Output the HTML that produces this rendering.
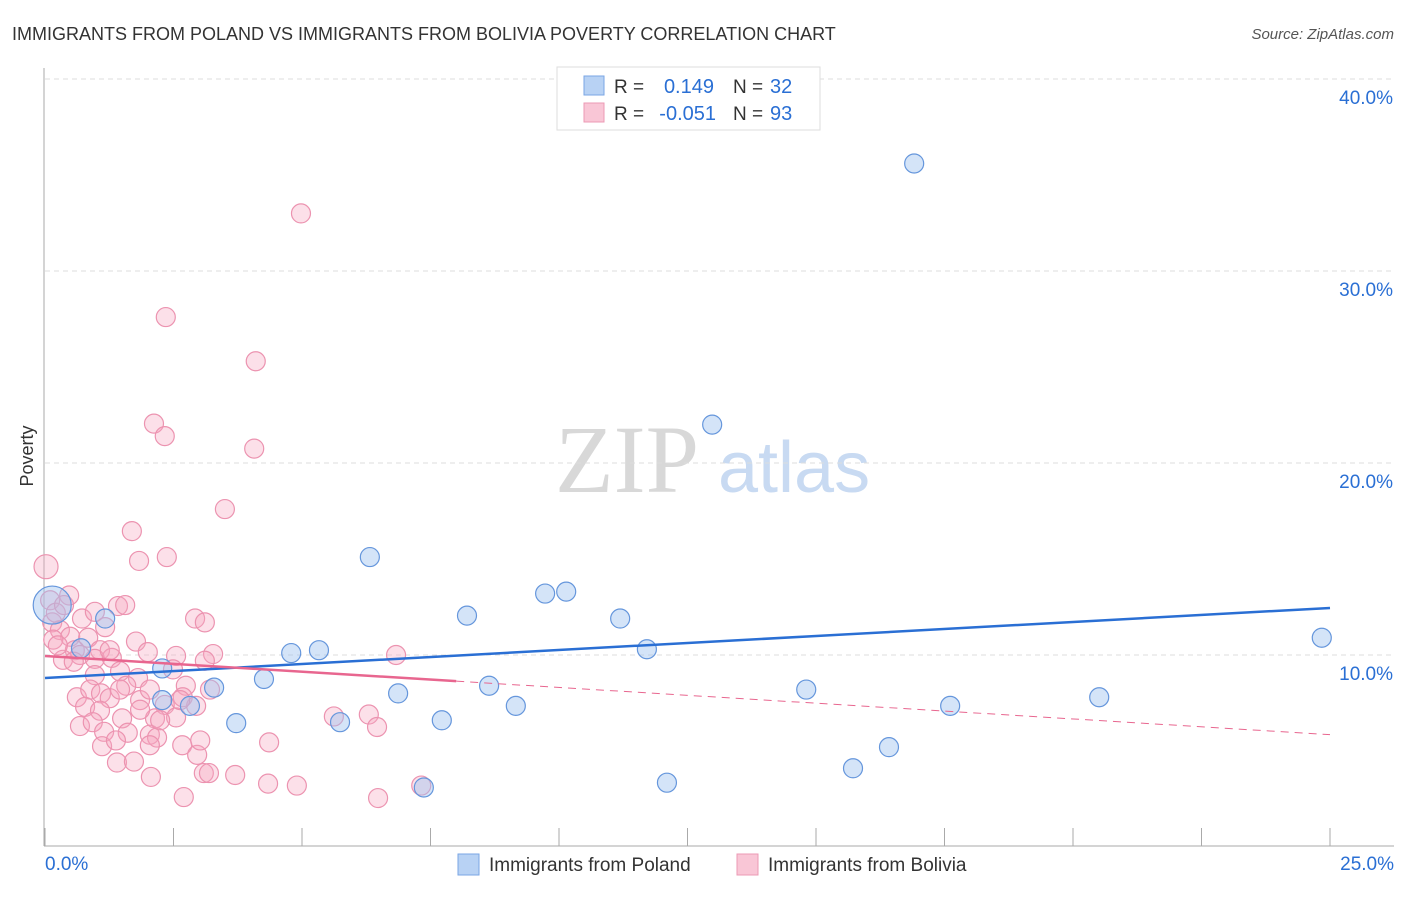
<!DOCTYPE html>
<html><head><meta charset="utf-8"><style>
body{margin:0;background:#fff;font-family:"Liberation Sans",sans-serif;}
</style></head><body>
<svg width="1406" height="892" xmlns="http://www.w3.org/2000/svg" style="font-family:'Liberation Sans',sans-serif">
<text x="12" y="40" font-size="18" fill="#333">IMMIGRANTS FROM POLAND VS IMMIGRANTS FROM BOLIVIA POVERTY CORRELATION CHART</text>
<text x="1394" y="39" font-size="15" fill="#555" font-style="italic" text-anchor="end">Source: ZipAtlas.com</text>
<text x="555" y="492" font-size="96" fill="#d8d8d8" font-family="Liberation Serif">ZIP</text>
<text x="718" y="492" font-size="72" fill="#c8daf2">atlas</text>
<g id="grid"></g>
<g id="axes"></g>
<g id="marks"></g>
<text transform="translate(33,456) rotate(-90)" font-size="18" fill="#333" text-anchor="middle">Poverty</text>
<g>
<rect x="557" y="67" width="263" height="63" fill="#fff" stroke="#ddd"/>
<rect x="584" y="76" width="20" height="19" fill="#b8d2f4" stroke="#7aa6e4"/>
<rect x="584" y="103" width="20" height="19" fill="#f9c6d6" stroke="#ec9ab4"/>
<text x="614" y="93" font-size="19" fill="#333">R =</text><text x="714" y="93" font-size="20" fill="#2a6fd4" text-anchor="end">0.149</text>
<text x="733" y="93" font-size="19" fill="#333">N =</text><text x="770" y="93" font-size="20" fill="#2a6fd4">32</text>
<text x="614" y="120" font-size="19" fill="#333">R =</text><text x="716" y="120" font-size="20" fill="#2a6fd4" text-anchor="end">-0.051</text>
<text x="733" y="120" font-size="19" fill="#333">N =</text><text x="770" y="120" font-size="20" fill="#2a6fd4">93</text>
</g>
<g>
<rect x="458" y="854" width="21" height="21" fill="#b8d2f4" stroke="#7aa6e4"/>
<text x="489" y="871" font-size="19" fill="#333">Immigrants from Poland</text>
<rect x="737" y="854" width="21" height="21" fill="#f9c6d6" stroke="#ec9ab4"/>
<text x="768" y="871" font-size="19" fill="#333">Immigrants from Bolivia</text>
</g>
</svg>
<script>
const xTicks=[0,2.5,5,7.5,10,12.5,15,17.5,20,22.5,25];
const yTicks=[10,20,30,40];
const yTickLabels=["10.0%","20.0%","30.0%","40.0%"];
const polandX=[16.91,12.98,6.32,9.73,10.14,8.21,11.19,1.17,11.71,24.84,4.79,5.33,0.70,2.28,3.29,4.26,8.64,6.87,14.81,20.51,17.61,9.16,3.72,5.74,7.72,2.82,2.28,16.42,15.72,12.1,7.37,0.14];
const polandY=[35.6,22.0,15.1,13.2,13.3,12.05,11.9,11.9,10.3,10.9,10.1,10.25,10.35,9.3,8.3,8.75,8.4,8.0,8.2,7.8,7.35,7.35,6.45,6.5,6.6,7.35,7.65,5.2,4.1,3.35,3.1,12.6];
const boliviaX=[4.98,2.35,4.1,2.12,2.33,4.07,3.5,1.69,1.83,2.37,0.02,0.47,1.42,1.56,2.92,3.11,0.14,0.29,1.17,0.49,0.84,1.77,0.58,1.07,0.68,2.55,3.27,6.83,0.35,0.56,0.97,1.3,2.0,2.49,1.46,3.11,0.97,1.81,0.62,0.88,1.09,1.26,1.58,2.74,2.68,2.94,0.78,1.07,1.85,2.33,1.5,2.14,2.55,5.62,6.3,6.46,0.68,0.93,1.15,1.61,2.04,2.18,1.11,1.38,2.67,4.36,2.96,1.4,1.73,2.06,3.09,3.19,3.7,4.34,4.9,6.48,2.7,7.32,0.1,0.21,0.37,0.16,0.25,0.72,0.97,1.46,2.04,2.24,3.21,3.02,2.04,1.85,1.26,2.63];
const boliviaY=[33.0,27.6,25.3,22.05,21.4,20.75,17.6,16.45,14.9,15.1,14.6,13.1,12.55,12.6,11.9,11.7,11.7,11.3,11.45,10.95,10.9,10.7,10.25,10.25,10.0,9.95,10.05,10.0,9.75,9.65,9.8,9.85,10.15,9.25,9.15,9.7,8.95,8.8,7.8,8.2,8.0,7.75,8.4,8.4,7.8,7.35,7.3,7.1,7.65,7.4,6.7,6.7,6.75,6.8,6.9,6.25,6.3,6.5,6.0,5.95,5.85,5.7,5.25,5.55,5.3,5.45,4.8,4.4,4.45,3.65,3.85,3.85,3.75,3.3,3.2,2.55,2.6,3.2,12.85,12.2,12.6,10.8,10.5,11.9,12.25,8.2,8.2,6.6,8.2,5.55,5.3,7.15,10.25,7.65];
const polandTrend=[8.8,12.45];
const boliviaTrend=[9.95,5.85];
const boliviaSolidEnd=8.0;

const NS="http://www.w3.org/2000/svg";
const sx=v=>45+v*51.4, sy=v=>847-v*19.2;
function mk(tag,attrs,parent){const e=document.createElementNS(NS,tag);for(const k in attrs)e.setAttribute(k,attrs[k]);parent.appendChild(e);return e;}
const grid=document.getElementById('grid'),axes=document.getElementById('axes'),marks=document.getElementById('marks');
yTicks.forEach((t,i)=>{
 const l=mk('line',{x1:45,x2:1394,y1:sy(t),y2:sy(t),stroke:'#ddd','stroke-dasharray':'5,4'},grid);
 
 
 const tx=mk('text',{x:1393,y:sy(t)+25,'font-size':19,fill:'#2a6fd4','text-anchor':'end'},axes);
 tx.textContent=yTickLabels[i];
 
 
});
const ya=mk('line',{x1:44,x2:44,y1:68,y2:846,stroke:'#aaa'},axes);


const xa=mk('line',{x1:44,x2:1394,y1:846,y2:846,stroke:'#aaa'},axes);


xTicks.forEach(t=>{
 const l=mk('line',{x1:sx(t),x2:sx(t),y1:828,y2:846,stroke:'#aaa'},axes);
 
 
});
const xl0=mk('text',{x:45,y:870,'font-size':19,fill:'#2a6fd4'},axes);xl0.textContent='0.0%';


const xl1=mk('text',{x:1394,y:870,'font-size':19,fill:'#2a6fd4','text-anchor':'end'},axes);xl1.textContent='25.0%';



boliviaX.forEach((x,i)=>{
 const c=mk('circle',{cx:sx(x),cy:sy(boliviaY[i]),r:i===10?12:9.5,fill:'rgba(245,165,192,0.35)',stroke:'#ec93b0','stroke-width':1.2},marks);
 
 
});
polandX.forEach((x,i)=>{
 const c=mk('circle',{cx:sx(x),cy:sy(polandY[i]),r:i===31?19:9.5,fill:'rgba(160,196,240,0.45)',stroke:'#6596dc','stroke-width':1.2},marks);
 
 
});
const by=x=>boliviaTrend[0]+(boliviaTrend[1]-boliviaTrend[0])*x/25;
const pl=mk('line',{x1:sx(0),y1:sy(polandTrend[0]),x2:sx(25),y2:sy(polandTrend[1]),stroke:'#2a6fd4','stroke-width':2.5},marks);


const bl=mk('line',{x1:sx(0),y1:sy(by(0)),x2:sx(boliviaSolidEnd),y2:sy(by(boliviaSolidEnd)),stroke:'#e8668f','stroke-width':2.5},marks);


const bd=mk('line',{x1:sx(boliviaSolidEnd),y1:sy(by(boliviaSolidEnd)),x2:sx(25),y2:sy(by(25)),stroke:'#e8668f','stroke-width':1,'stroke-dasharray':'8,6'},marks);


</script>
</body></html>
